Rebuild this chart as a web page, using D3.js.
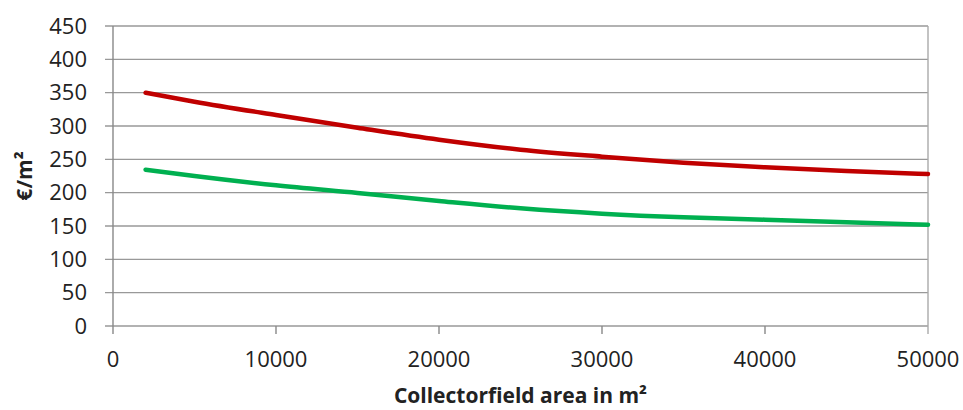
<!DOCTYPE html>
<html>
<head>
<meta charset="utf-8">
<script src="https://cdn.jsdelivr.net/npm/d3@7"></script>
<style>
  body { margin: 0; background: #fff; }
  svg text { font-family: "Open Sans", sans-serif; fill: #222; }
</style>
</head>
<body>
<div class="chart"></div>
<script>
// collector field area (m²)
let areas = [2000, 5000, 10000, 15000, 20000, 25000, 30000, 35000, 40000, 45000, 50000];
// cost curves in €/m²
let redCost = [350, 336.5, 316.5, 297.5, 279.5, 264.5, 254, 245, 238, 232.5, 228];
let greenCost = [234.5, 225, 211, 199.5, 187.5, 176.5, 168.5, 163, 159.5, 155.5, 152];
let xTicks = [0, 10000, 20000, 30000, 40000, 50000];
let yTicks = [0, 50, 100, 150, 200, 250, 300, 350, 400, 450];

let width = 963,
  height = 410,
  margin = { top: 26, right: 35, bottom: 84, left: 113 };

let svg = d3.select(".chart").append("svg")
  .attr("width", width)
  .attr("height", height);

let x = d3.scaleLinear()
  .domain([0, 50000])
  .range([margin.left, width - margin.right]);

let y = d3.scaleLinear()
  .domain([0, 450])
  .range([height - margin.bottom, margin.top]);

// horizontal gridlines (with small tick stub on the left)
svg.append("g")
  .selectAll("line")
  .data(yTicks)
  .enter().append("line")
  .attr("x1", x(0) - 8)
  .attr("x2", x(50000))
  .attr("y1", (d) => y(d))
  .attr("y2", (d) => y(d))
  .attr("stroke", "#999")
  .attr("stroke-width", 1.4);

// y axis
svg.append("line")
  .attr("x1", x(0)).attr("x2", x(0))
  .attr("y1", y(450)).attr("y2", y(0) + 8)
  .attr("stroke", "#888").attr("stroke-width", 1.4);

// x ticks (the last one runs up as the right border)
svg.append("g")
  .selectAll("line")
  .data(xTicks.slice(1))
  .enter().append("line")
  .attr("x1", (d) => x(d))
  .attr("x2", (d) => x(d))
  .attr("y1", (d) => d == 50000 ? y(450) : y(0))
  .attr("y2", y(0) + 8)
  .attr("stroke", (d) => d == 50000 ? "#aaa" : "#888")
  .attr("stroke-width", 1.4);

// y tick labels
svg.append("g")
  .selectAll("text")
  .data(yTicks)
  .enter().append("text")
  .attr("x", 87)
  .attr("y", (d) => y(d))
  .attr("dy", "0.35em")
  .attr("text-anchor", "end")
  .attr("font-size", "22px")
  .text((d) => d);

// x tick labels
svg.append("g")
  .selectAll("text")
  .data(xTicks)
  .enter().append("text")
  .attr("x", (d) => x(d))
  .attr("y", 367)
  .attr("text-anchor", "middle")
  .attr("font-size", "22px")
  .text((d) => d);

// axis titles
svg.append("text")
  .attr("x", (x(0) + x(50000)) / 2)
  .attr("y", 403)
  .attr("text-anchor", "middle")
  .attr("font-size", "21px")
  .attr("font-weight", "bold")
  .text("Collectorfield area in m²");

svg.append("text")
  .attr("transform", "translate(32," + (y(0) + y(450)) / 2 + ") rotate(-90)")
  .attr("text-anchor", "middle")
  .attr("font-size", "21px")
  .attr("font-weight", "bold")
  .text("€/m²");

// curves
let line = d3.line()
  .x((d, i) => x(areas[i]))
  .y((d) => y(d))
  .curve(d3.curveMonotoneX);

svg.append("path")
  .datum(redCost)
  .attr("d", line)
  .attr("fill", "none")
  .attr("stroke", "#c00000")
  .attr("stroke-width", 4.5)
  .attr("stroke-linecap", "round");

svg.append("path")
  .datum(greenCost)
  .attr("d", line)
  .attr("fill", "none")
  .attr("stroke", "#00b050")
  .attr("stroke-width", 4.5)
  .attr("stroke-linecap", "round");
</script>
</body>
</html>
